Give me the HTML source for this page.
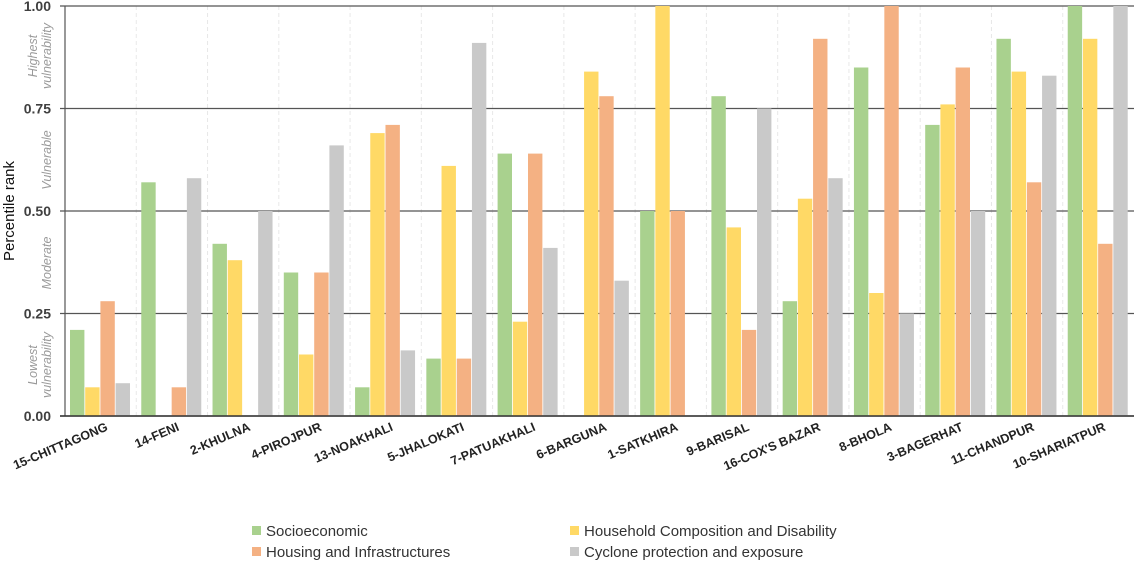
<!DOCTYPE html>
<html><head><meta charset="utf-8"><style>
body{margin:0;background:#fff;width:1134px;height:564px;overflow:hidden;font-family:"Liberation Sans",sans-serif}
</style></head><body>
<svg id="chart" width="1134" height="564" xmlns="http://www.w3.org/2000/svg"></svg>
<script>
const categories=["15-CHITTAGONG","14-FENI","2-KHULNA","4-PIROJPUR","13-NOAKHALI","5-JHALOKATI","7-PATUAKHALI","6-BARGUNA","1-SATKHIRA","9-BARISAL","16-COX'S BAZAR","8-BHOLA","3-BAGERHAT","11-CHANDPUR","10-SHARIATPUR"];
const socioeconomic=[0.21,0.57,0.42,0.35,0.07,0.14,0.64,0,0.50,0.78,0.28,0.85,0.71,0.92,1.00];
const household=[0.07,0,0.38,0.15,0.69,0.61,0.23,0.84,1.00,0.46,0.53,0.30,0.76,0.84,0.92];
const housing=[0.28,0.07,0,0.35,0.71,0.14,0.64,0.78,0.50,0.21,0.92,1.00,0.85,0.57,0.42];
const cyclone=[0.08,0.58,0.50,0.66,0.16,0.91,0.41,0.33,0,0.75,0.58,0.25,0.50,0.83,1.00];
const yTicks=[0,0.25,0.5,0.75,1.0];
const yTickLabels=["0.00","0.25","0.50","0.75","1.00"];
const seriesNames=["Socioeconomic","Household Composition and Disability","Housing and Infrastructures","Cyclone protection and exposure"];
const NS="http://www.w3.org/2000/svg";
const svg=document.getElementById('chart');
const X0=65,X1=1134,Y0=416,Y1=6;
const gw=(X1-X0)/categories.length;
const y=v=>Y0-(Y0-Y1)*v;
const gx=i=>X0+gw*i;
function mk(t,a,p){const e=document.createElementNS(NS,t);for(const k in a)e.setAttribute(k,a[k]);(p||svg).appendChild(e);return e;}
for(let i=1;i<categories.length;i++){const l=mk('line',{x1:gx(i),x2:gx(i),y1:Y1,y2:Y0,stroke:'#e8e8e8','stroke-dasharray':'4,3'});

}
yTicks.forEach((t,i)=>{const l=mk('line',{x1:60,x2:X1,y1:y(t),y2:y(t),stroke:'#555','stroke-width':1.2});


const tx=mk('text',{x:51,y:y(t)+5,'text-anchor':'end','font-size':14,'font-weight':'bold',fill:'#404040'});tx.textContent=yTickLabels[i];

});
const series=[socioeconomic,household,housing,cyclone];
const colors=["#a9d18e","#ffd966","#f4b183","#c9c9c9"];
const bw=15.2,pad=5;
categories.forEach((c,i)=>{
 series.forEach((s,j)=>{const r=mk('rect',{x:gx(i)+pad+j*bw,y:y(s[i]),width:bw-0.8,height:Y0-y(s[i]),fill:colors[j]});
 
 });
 const cx=gx(i)+gw/2+8;
 const t=mk('text',{x:cx,y:430,'text-anchor':'end','font-size':12.5,'font-weight':'bold',fill:'#222',transform:`rotate(-23 ${cx} 430)`});t.textContent=c;
 
 
});
mk('line',{x1:X0,x2:X0,y1:Y1,y2:Y0,stroke:'#555','stroke-width':1.2});
mk('line',{x1:60,x2:X1,y1:Y0,y2:Y0,stroke:'#333','stroke-width':1.5});
const yt=mk('text',{x:14,y:211,'text-anchor':'middle','font-size':15,fill:'#111',transform:'rotate(-90 14 211)'});yt.textContent='Percentile rank';

const ann=[[["Highest","vulnerability"],56],[["Vulnerable"],160],[["Moderate"],263],[["Lowest","vulnerability"],365]];
ann.forEach(a=>{const lines=a[0];lines.forEach((s,k)=>{const xx=lines.length==2?(k==0?37:51):51;
 const t=mk('text',{x:xx,y:a[1],'text-anchor':'middle','font-size':12.5,'font-style':'italic',fill:'#9a9a9a',transform:`rotate(-90 ${xx} ${a[1]})`});t.textContent=s;
 });});
const lp=[[252,531],[570,531],[252,552],[570,552]];
seriesNames.forEach((n,j)=>{const g=mk('g',{});
 
 mk('rect',{x:lp[j][0],y:lp[j][1]-5,width:9,height:9,fill:colors[j]},g);
 const t=mk('text',{x:lp[j][0]+14,y:lp[j][1]+5,'font-size':15,fill:'#333'},g);t.textContent=n;});
</script>
</body></html>
